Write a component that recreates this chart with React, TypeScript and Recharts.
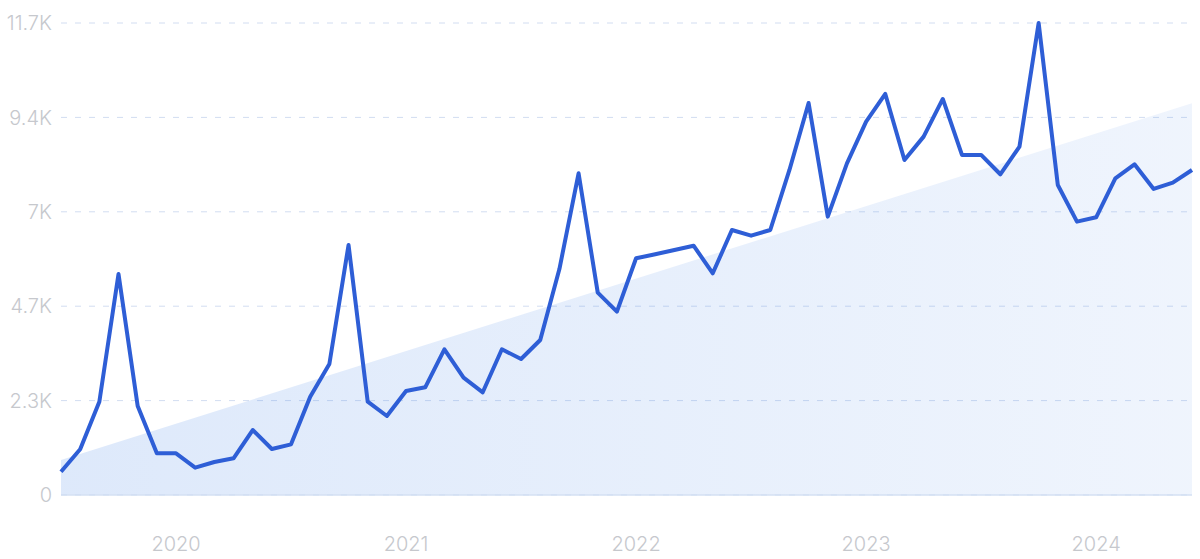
import { Area, CartesianGrid, ComposedChart, Line, XAxis, YAxis } from "recharts";

const months = [
  "2019-07", "2019-08", "2019-09", "2019-10", "2019-11", "2019-12",
  "2020-01", "2020-02", "2020-03", "2020-04", "2020-05", "2020-06",
  "2020-07", "2020-08", "2020-09", "2020-10", "2020-11", "2020-12",
  "2021-01", "2021-02", "2021-03", "2021-04", "2021-05", "2021-06",
  "2021-07", "2021-08", "2021-09", "2021-10", "2021-11", "2021-12",
  "2022-01", "2022-02", "2022-03", "2022-04", "2022-05", "2022-06",
  "2022-07", "2022-08", "2022-09", "2022-10", "2022-11", "2022-12",
  "2023-01", "2023-02", "2023-03", "2023-04", "2023-05", "2023-06",
  "2023-07", "2023-08", "2023-09", "2023-10", "2023-11", "2023-12",
  "2024-01", "2024-02", "2024-03", "2024-04", "2024-05", "2024-06",
];

const searches = [
  578, 1133, 2313, 5479, 2206, 1033, 1033, 677, 818, 909,
  1611, 1140, 1256, 2437, 3247, 6197, 2313, 1958, 2578, 2670,
  3612, 2908, 2546, 3612, 3371, 3842, 5600, 7975, 5015, 4544,
  5868, 5967, 6074, 6180, 5496, 6569, 6428, 6569, 8057, 9718,
  6900, 8222, 9255, 9941, 8305, 8883, 9817, 8429, 8429, 7950,
  8635, 11700, 7685, 6776, 6884, 7850, 8197, 7586, 7742, 8057,
];

// trend line: only the two ends, the area joins them
const trendStart = 868;
const trendEnd = 9710;

const yTicks = [0, 2340, 4680, 7020, 9360, 11700];
const yTickLabels = ["0", "2.3K", "4.7K", "7K", "9.4K", "11.7K"];

const yearMonths = ["2020-01", "2021-01", "2022-01", "2023-01", "2024-01"];
const yearLabels = ["2020", "2021", "2022", "2023", "2024"];

const data = months.map((m, i) => ({
  idx: i,
  month: m,
  searches: searches[i],
  trend: i === 0 ? trendStart : i === months.length - 1 ? trendEnd : null,
}));

const xTicks = yearMonths.map((m) => months.indexOf(m));

const tickStyle = { fill: "#c6c8cd", fontSize: 20, fontWeight: 300, fontFamily: "Inter, sans-serif" };

export default function App() {
  return (
    <div style={{ position: "absolute", left: 0, top: 0, width: 1200, height: 559, background: "#fff" }}>
      <ComposedChart width={1200} height={559} data={data} margin={{ top: 23, right: 8, left: 0, bottom: 0 }}>
        <defs>
          <linearGradient id="trendFill" x1="0" y1="0" x2="1" y2="0">
            <stop offset="0%" stopColor="#3a7de6" stopOpacity={0.17} />
            <stop offset="100%" stopColor="#3a7de6" stopOpacity={0.08} />
          </linearGradient>
        </defs>
        <CartesianGrid vertical={false} strokeDasharray="6 8" stroke="#d2ddf1" />
        <XAxis
          dataKey="idx"
          type="number"
          domain={[0, months.length - 1]}
          ticks={xTicks}
          tickFormatter={(v: number) => yearLabels[xTicks.indexOf(v)] ?? ""}
          tickLine={false}
          tickSize={0}
          tickMargin={42}
          height={64}
          axisLine={{ stroke: "#d5e1f3", strokeWidth: 1.5 }}
          tick={tickStyle}
        />
        <YAxis
          domain={[0, 11700]}
          ticks={yTicks}
          tickFormatter={(v: number) => yTickLabels[yTicks.indexOf(v)] ?? ""}
          axisLine={false}
          tickLine={false}
          tickSize={0}
          tickMargin={9}
          width={61}
          tick={tickStyle}
        />
        <Area
          type="linear"
          dataKey="trend"
          connectNulls
          stroke="none"
          fill="url(#trendFill)"
          fillOpacity={1}
          isAnimationActive={false}
        />
        <Line
          type="linear"
          dataKey="searches"
          stroke="#2e5ed6"
          strokeWidth={4}
          dot={false}
          strokeLinejoin="round"
          isAnimationActive={false}
        />
      </ComposedChart>
    </div>
  );
}
